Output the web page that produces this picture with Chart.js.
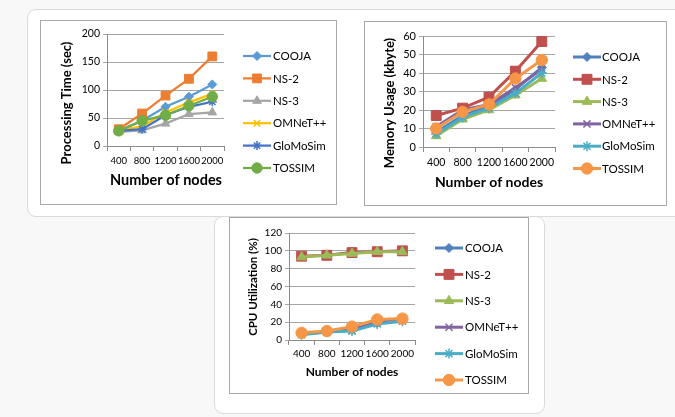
<!DOCTYPE html>
<html><head><meta charset="utf-8">
<script src="https://cdn.jsdelivr.net/npm/chart.js@4.4.1/dist/chart.umd.min.js"></script>
<style>
html,body{margin:0;padding:0;background:#f8f8f8;width:675px;height:417px;overflow:hidden;font-family:Lato,sans-serif}
.card{position:absolute;background:#fff;border:1px solid #dadada;border-radius:9px;box-sizing:border-box}
.frame{position:absolute;border:1px solid #a8a8a8;box-sizing:border-box;background:#fff}
.frame canvas{position:absolute;left:0;top:0}
</style></head><body>
<div class="card" style="left:27px;top:9px;width:664px;height:208px"></div>
<div class="card" style="left:214px;top:216px;width:331px;height:198px"></div>
<div class="frame" style="left:40px;top:20px;width:297px;height:185px"><canvas id="c1" width="295" height="183"></canvas></div>
<div class="frame" style="left:364px;top:21px;width:303px;height:185px"><canvas id="c2" width="301" height="183"></canvas></div>
<div class="frame" style="left:229px;top:217px;width:300px;height:177px"><canvas id="c3" width="298" height="175"></canvas></div>
<script>
// ---- data ----
const nodeCounts = ['400', '800', '1200', '1600', '2000'];
const simulators = ['COOJA', 'NS-2', 'NS-3', 'OMNeT++', 'GloMoSim', 'TOSSIM'];

const procCooja    = [27, 45, 70, 88, 110];
const procNs2      = [30, 58, 90, 120, 160];
const procNs3      = [25, 28, 40, 57, 60];
const procOmnet    = [28, 35, 60, 78, 93];
const procGlomosim = [27, 30, 55, 70, 79];
const procTossim   = [27, 45, 55, 72, 88];
const procTicks    = [0, 50, 100, 150, 200];

const memCooja    = [8, 17, 22, 31, 43];
const memNs2      = [17, 21, 27, 41, 57];
const memNs3      = [6, 15, 20, 28, 37];
const memOmnet    = [11, 20, 23, 32, 42];
const memGlomosim = [7, 16, 21, 29, 40];
const memTossim   = [10, 19, 23, 37, 47];
const memTicks    = [0, 10, 20, 30, 40, 50, 60];

const cpuCooja    = [7, 9, 12, 19, 22];
const cpuNs2      = [94, 95, 98, 99, 100];
const cpuNs3      = [93, 95, 97, 99, 99];
const cpuOmnet    = [7, 9, 11, 20, 22];
const cpuGlomosim = [6, 9, 10, 18, 21];
const cpuTossim   = [8, 10, 15, 23, 24];
const cpuTicks    = [0, 20, 40, 60, 80, 100, 120];

// ---- styling ----
const markerStyles = ['rectRot', 'rect', 'triangle', 'crossRot', 'star', 'circle'];
const colors2013 = ['#5B9BD5', '#ED7D31', '#A5A5A5', '#FFC000', '#4472C4', '#70AD47'];
const colors2007 = ['#4F81BD', '#C0504D', '#9BBB59', '#8064A2', '#4BACC6', '#F79646'];

function drawMarker(ctx, style, r, bw, x, y) {
  if (Chart.helpers && Chart.helpers.drawPoint) {
    Chart.helpers.drawPoint(ctx, {pointStyle: style, radius: r, borderWidth: bw, rotation: 0}, x, y);
  } else {
    ctx.beginPath(); ctx.arc(x, y, r, 0, Math.PI * 2); ctx.fill(); ctx.stroke();
  }
}

const overlay = {
  id: 'overlay',
  afterDraw(chart, args, o) {
    const ctx = chart.ctx;
    const ox = o.origin[0], oy = o.origin[1];
    ctx.save();
    ctx.fillStyle = '#000';
    ctx.textAlign = 'center';
    ctx.textBaseline = 'middle';
    ctx.font = 'bold ' + o.xTitleSize + 'px Lato';
    ctx.fillText(o.xTitle, o.xTitlePos[0] - ox, o.xTitlePos[1] - oy);
    ctx.save();
    ctx.translate(o.yTitlePos[0] - ox, o.yTitlePos[1] - oy);
    ctx.rotate(-Math.PI / 2);
    ctx.font = 'bold ' + o.yTitleSize + 'px Lato';
    ctx.fillText(o.yTitle, 0, 0);
    ctx.restore();
    // legend
    ctx.textAlign = 'left';
    ctx.font = o.legendSize + 'px Lato';
    chart.data.datasets.forEach((ds, i) => {
      const y = o.legendY0 + i * o.legendStep - oy;
      const x0 = o.legendX - ox, x1 = x0 + o.legendLen;
      ctx.strokeStyle = ds.borderColor;
      ctx.lineWidth = ds.borderWidth;
      ctx.beginPath(); ctx.moveTo(x0, y); ctx.lineTo(x1, y); ctx.stroke();
      ctx.fillStyle = ds.pointBackgroundColor;
      ctx.strokeStyle = ds.pointBorderColor;
      ctx.lineWidth = ds.pointBorderWidth;
      drawMarker(ctx, ds.pointStyle, ds.pointRadius, ds.pointBorderWidth, (x0 + x1) / 2, y);
      ctx.fillStyle = '#000';
      ctx.fillText(ds.label, o.legendText - ox, y + 0.5);
    });
    ctx.restore();
  }
};

function buildChart(id, series, palette, ticks, lay) {
  const W = lay.size[0], H = lay.size[1];
  const ox = lay.origin[0], oy = lay.origin[1];
  const pl = lay.plot.l - ox, pr = lay.plot.r - ox, pt = lay.plot.t - oy, pb = lay.plot.b - oy;
  const datasets = series.map((vals, i) => ({
    label: simulators[i],
    data: vals,
    borderColor: palette[i],
    backgroundColor: palette[i],
    pointBackgroundColor: palette[i],
    pointBorderColor: palette[i],
    pointBorderWidth: lay.markerBw[i],
    borderWidth: lay.lineW,
    pointStyle: markerStyles[i],
    pointRadius: lay.markerR[i],
    pointHoverRadius: lay.markerR[i],
    tension: 0,
    clip: false,
    order: series.length - i
  }));
  return new Chart(document.getElementById(id), {
    type: 'line',
    data: {labels: nodeCounts, datasets},
    plugins: [overlay],
    options: {
      responsive: false, animation: false, devicePixelRatio: 1,
      layout: {padding: {left: 0, top: pt, right: W - pr, bottom: 0}},
      plugins: {legend: {display: false}, tooltip: {enabled: false}, overlay: lay.overlay},
      scales: {
        x: {
          offset: true,
          afterFit(s) { s.height = H - pb; },
          grid: {offset: true, drawOnChartArea: false, drawTicks: true, tickLength: 5, color: '#8c8c8c'},
          border: {display: true, color: '#8c8c8c'},
          ticks: {color: '#000', font: {family: 'Lato', size: lay.tickSize}, padding: lay.xTickPad, maxRotation: 0, autoSkip: false}
        },
        y: {
          min: ticks[0], max: ticks[ticks.length - 1],
          afterFit(s) { s.width = pl; },
          afterBuildTicks(s) { s.ticks = ticks.map(v => ({value: v})); },
          grid: {color: '#a6a6a6', drawTicks: true, tickLength: 4},
          border: {display: true, color: '#8c8c8c'},
          ticks: {color: '#000', font: {family: 'Lato', size: lay.yTickSize || lay.tickSize}, padding: 3}
        }
      }
    }
  });
}

buildChart('c1', [procCooja, procNs2, procNs3, procOmnet, procGlomosim, procTossim], colors2013, procTicks, {
  origin: [41, 21], size: [295, 183],
  plot: {l: 107, r: 224, t: 34, b: 146},
  lineW: 2.25, markerR: [4.5, 6.2, 5, 4.5, 4.5, 5.2], markerBw: [1, 1, 1, 1.5, 1.5, 1],
  tickSize: 9.5, yTickSize: 10.5, xTickPad: 4,
  overlay: {origin: [41, 21], xTitle: 'Number of nodes', xTitlePos: [166, 180], xTitleSize: 14.5,
    yTitle: 'Processing Time (sec)', yTitlePos: [67, 103], yTitleSize: 13,
    legendX: 243, legendLen: 28, legendText: 273, legendY0: 56, legendStep: 22.4, legendSize: 11.5}
});

buildChart('c2', [memCooja, memNs2, memNs3, memOmnet, memGlomosim, memTossim], colors2007, memTicks, {
  origin: [365, 22], size: [301, 183],
  plot: {l: 423, r: 555, t: 36, b: 147},
  lineW: 3, markerR: [4.5, 7, 5.5, 5, 5, 5.7], markerBw: [1, 1, 1, 1.5, 1.5, 1],
  tickSize: 10.5, yTickSize: 11, xTickPad: 4,
  overlay: {origin: [365, 22], xTitle: 'Number of nodes', xTitlePos: [489, 182], xTitleSize: 14,
    yTitle: 'Memory Usage (kbyte)', yTitlePos: [390, 103], yTitleSize: 13,
    legendX: 573, legendLen: 28, legendText: 602, legendY0: 57, legendStep: 22.3, legendSize: 11.5}
});

buildChart('c3', [cpuCooja, cpuNs2, cpuNs3, cpuOmnet, cpuGlomosim, cpuTossim], colors2007, cpuTicks, {
  origin: [230, 218], size: [298, 175],
  plot: {l: 289, r: 415, t: 233, b: 340},
  lineW: 3, markerR: [4.5, 7, 5.5, 5, 5, 5.7], markerBw: [1, 1, 1, 1.5, 1.5, 1],
  tickSize: 10, xTickPad: 3,
  overlay: {origin: [230, 218], xTitle: 'Number of nodes', xTitlePos: [352, 372], xTitleSize: 12,
    yTitle: 'CPU Utilization (%)', yTitlePos: [253, 287], yTitleSize: 11.5,
    legendX: 435, legendLen: 28, legendText: 465, legendY0: 248, legendStep: 26.4, legendSize: 11.5}
});
</script>
</body></html>
